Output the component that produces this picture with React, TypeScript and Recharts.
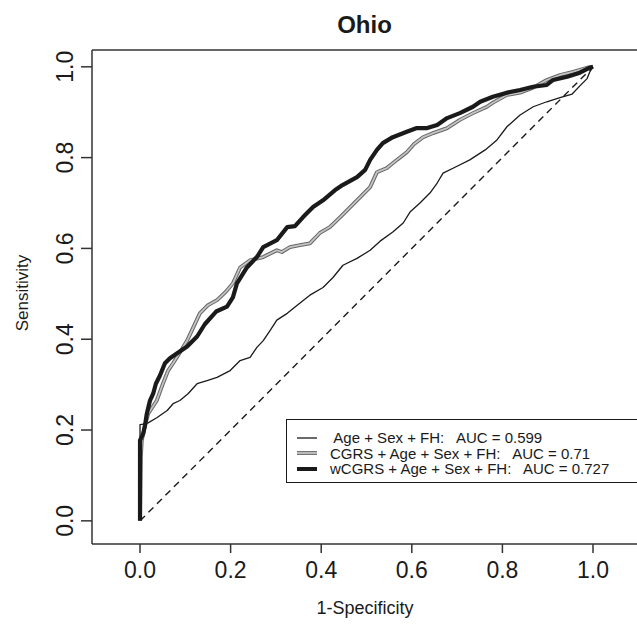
import React from 'react';
import { LineChart, Line, XAxis, YAxis, ReferenceLine } from 'recharts';

// ROC points (1-specificity, sensitivity)
const baseFpr = [0, 0, 0.015, 0.037, 0.06, 0.073, 0.088, 0.106, 0.126, 0.148, 0.17, 0.199, 0.221, 0.243, 0.258, 0.272, 0.287, 0.302, 0.325, 0.347, 0.375, 0.404, 0.426, 0.448, 0.479, 0.508, 0.53, 0.558, 0.581, 0.596, 0.618, 0.64, 0.656, 0.669, 0.7, 0.728, 0.762, 0.788, 0.81, 0.839, 0.868, 0.898, 0.927, 0.954, 0.971, 0.987, 0.993, 1];
const baseTpr = [0, 0.212, 0.214, 0.227, 0.243, 0.258, 0.265, 0.28, 0.302, 0.309, 0.316, 0.331, 0.353, 0.36, 0.382, 0.397, 0.419, 0.442, 0.457, 0.475, 0.497, 0.514, 0.536, 0.563, 0.578, 0.596, 0.616, 0.636, 0.656, 0.68, 0.7, 0.722, 0.744, 0.766, 0.781, 0.795, 0.817, 0.839, 0.868, 0.894, 0.912, 0.923, 0.932, 0.94, 0.958, 0.974, 0.989, 1];

const cgrsFpr = [0, 0.002, 0.004, 0.011, 0.018, 0.037, 0.049, 0.062, 0.073, 0.088, 0.104, 0.132, 0.15, 0.17, 0.188, 0.205, 0.221, 0.243, 0.272, 0.302, 0.313, 0.331, 0.353, 0.375, 0.397, 0.419, 0.442, 0.464, 0.486, 0.508, 0.523, 0.545, 0.567, 0.589, 0.605, 0.625, 0.647, 0.678, 0.706, 0.735, 0.766, 0.779, 0.81, 0.839, 0.868, 0.898, 0.927, 0.956, 0.987, 1];
const cgrsTpr = [0, 0.143, 0.177, 0.21, 0.236, 0.265, 0.298, 0.331, 0.347, 0.371, 0.397, 0.457, 0.475, 0.486, 0.503, 0.523, 0.558, 0.574, 0.581, 0.596, 0.592, 0.603, 0.607, 0.611, 0.634, 0.647, 0.669, 0.691, 0.713, 0.735, 0.768, 0.777, 0.795, 0.812, 0.83, 0.845, 0.854, 0.865, 0.883, 0.898, 0.912, 0.921, 0.938, 0.943, 0.954, 0.971, 0.982, 0.989, 0.998, 1];

const wcgrsFpr = [0, 0, 0.007, 0.011, 0.015, 0.022, 0.029, 0.035, 0.044, 0.055, 0.066, 0.082, 0.104, 0.126, 0.143, 0.168, 0.192, 0.205, 0.214, 0.236, 0.258, 0.272, 0.302, 0.325, 0.342, 0.36, 0.382, 0.404, 0.43, 0.448, 0.479, 0.497, 0.508, 0.523, 0.536, 0.558, 0.589, 0.611, 0.634, 0.656, 0.678, 0.706, 0.735, 0.751, 0.779, 0.81, 0.839, 0.868, 0.898, 0.912, 0.943, 0.971, 0.993, 1];
const wcgrsTpr = [0, 0.177, 0.192, 0.21, 0.236, 0.265, 0.28, 0.302, 0.32, 0.347, 0.358, 0.369, 0.384, 0.406, 0.433, 0.461, 0.472, 0.492, 0.523, 0.558, 0.581, 0.603, 0.618, 0.647, 0.649, 0.669, 0.691, 0.706, 0.728, 0.74, 0.757, 0.773, 0.795, 0.817, 0.832, 0.845, 0.857, 0.865, 0.865, 0.872, 0.887, 0.898, 0.912, 0.923, 0.934, 0.943, 0.949, 0.956, 0.96, 0.971, 0.978, 0.987, 0.998, 1];

const chanceFpr = [0, 1];
const chanceTpr = [0, 1];

const ticks = [0, 0.2, 0.4, 0.6, 0.8, 1];
const legendLabels = [
  ' Age + Sex + FH:   AUC = 0.599',
  'CGRS + Age + Sex + FH:   AUC = 0.71',
  'wCGRS + Age + Sex + FH:   AUC = 0.727',
];

const toPoints = (xs: number[], ys: number[]) => xs.map((x, i) => ({ x, y: ys[i] }));

const FONT = '"Liberation Sans", Arial, sans-serif';
const INK = '#1a1a1a';

const XTick = (props: any) => {
  const { x, y, payload } = props;
  return (
    <text x={x} y={y + 23} textAnchor="middle" fontSize={23} fill={INK} fontFamily={FONT}>
      {payload.value.toFixed(1)}
    </text>
  );
};

const YTick = (props: any) => {
  const { y, payload } = props;
  return (
    <text x={73} y={y} transform={`rotate(-90 73 ${y})`} textAnchor="middle" fontSize={23} fill={INK} fontFamily={FONT}>
      {payload.value.toFixed(1)}
    </text>
  );
};

const Sample = ({ kind }: { kind: number }) => (
  <svg width={20} height={10} style={{ display: 'block', overflow: 'visible' }}>
    {kind === 0 && <line x1={0} y1={5} x2={20} y2={5} stroke={INK} strokeWidth={1.3} />}
    {kind === 1 && (
      <>
        <line x1={0} y1={5} x2={20} y2={5} stroke="#666" strokeWidth={3.8} />
        <line x1={0} y1={5} x2={20} y2={5} stroke="#c4c4c4" strokeWidth={1.8} />
      </>
    )}
    {kind === 2 && <line x1={0} y1={5} x2={20} y2={5} stroke={INK} strokeWidth={4} />}
  </svg>
);

const LegendBox = () => (
  <div
    style={{
      position: 'absolute',
      left: 286,
      top: 419,
      width: 352,
      height: 64,
      boxSizing: 'border-box',
      border: `1.5px solid ${INK}`,
      background: '#fff',
      paddingTop: 10,
      fontFamily: FONT,
      fontSize: 15,
      color: INK,
    }}
  >
    {legendLabels.map((label, i) => (
      <div key={label} style={{ display: 'flex', alignItems: 'center', height: 15.5, paddingLeft: 10 }}>
        <Sample kind={i} />
        <span style={{ marginLeft: 13, whiteSpace: 'pre', lineHeight: '15.5px' }}>{label}</span>
      </div>
    ))}
  </div>
);

export default function App() {
  return (
    <div style={{ position: 'absolute', left: 0, top: 0, width: 637, height: 624, background: '#fff', overflow: 'hidden' }}>
      <div
        style={{
          position: 'absolute',
          top: 11,
          left: 0,
          width: 729,
          textAlign: 'center',
          fontFamily: FONT,
          fontWeight: 'bold',
          fontSize: 24,
          color: INK,
        }}
      >
        Ohio
      </div>
      <LineChart width={646} height={624} margin={{ top: 50, right: 0, bottom: 0, left: 0 }}>
        <XAxis
          type="number"
          dataKey="x"
          domain={[-0.106, 1.117]}
          ticks={ticks}
          allowDataOverflow
          height={80}
          tickSize={9}
          tick={<XTick />}
          axisLine={{ stroke: '#333', strokeWidth: 1.5 }}
          tickLine={{ stroke: '#333', strokeWidth: 1.5 }}
          label={{
            content: () => (
              <text x={365} y={614} textAnchor="middle" fontSize={18} fill={INK} fontFamily={FONT}>
                1-Specificity
              </text>
            ),
          }}
        />
        <YAxis
          type="number"
          dataKey="y"
          domain={[-0.051, 1.037]}
          ticks={ticks}
          allowDataOverflow
          width={92}
          tickSize={11}
          tick={<YTick />}
          axisLine={{ stroke: '#333', strokeWidth: 1.5 }}
          tickLine={{ stroke: '#333', strokeWidth: 1.5 }}
          label={{
            content: () => (
              <text x={28} y={293} transform="rotate(-90 28 293)" textAnchor="middle" fontSize={17} fill={INK} fontFamily={FONT}>
                Sensitivity
              </text>
            ),
          }}
        />
        <ReferenceLine y={1.037} stroke="#333" strokeWidth={1.5} />
        <Line
          data={toPoints(chanceFpr, chanceTpr)}
          dataKey="y"
          stroke={INK}
          strokeWidth={1.4}
          strokeDasharray="7 5"
          dot={false}
          activeDot={false}
          isAnimationActive={false}
        />
        <Line
          data={toPoints(baseFpr, baseTpr)}
          dataKey="y"
          name="base"
          stroke={INK}
          strokeWidth={1.3}
          strokeLinejoin="round"
          dot={false}
          activeDot={false}
          isAnimationActive={false}
        />
        <Line
          data={toPoints(cgrsFpr, cgrsTpr)}
          dataKey="y"
          name="cgrs-edge"
          stroke="#666"
          strokeWidth={3.8}
          strokeLinejoin="round"
          dot={false}
          activeDot={false}
          isAnimationActive={false}
        />
        <Line
          data={toPoints(cgrsFpr, cgrsTpr)}
          dataKey="y"
          name="cgrs"
          stroke="#c4c4c4"
          strokeWidth={1.8}
          strokeLinejoin="round"
          dot={false}
          activeDot={false}
          isAnimationActive={false}
        />
        <Line
          data={toPoints(wcgrsFpr, wcgrsTpr)}
          dataKey="y"
          name="wcgrs"
          stroke={INK}
          strokeWidth={4.2}
          strokeLinejoin="round"
          dot={false}
          activeDot={false}
          isAnimationActive={false}
        />
      </LineChart>
      <LegendBox />
    </div>
  );
}
